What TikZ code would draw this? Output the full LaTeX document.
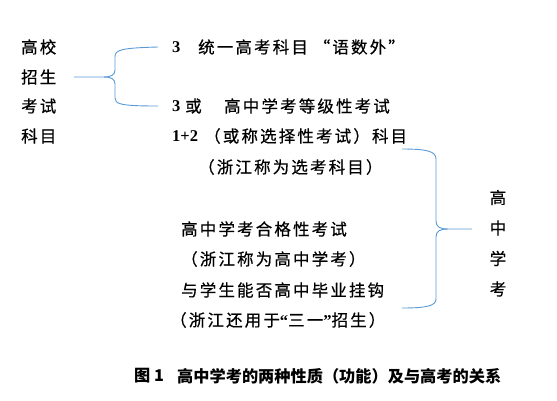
\documentclass[tikz,border=0pt]{standalone}
\usepackage{fontspec}
\setmainfont{Liberation Serif}
\newfontfamily\cjk[LetterSpace=13,FakeBold=0.5]{Noto Sans CJK SC}
\newfontfamily\cjkcap{Noto Sans CJK SC}
\definecolor{braceblue}{RGB}{91,155,213}

\begin{document}
\begin{tikzpicture}[
    x=1pt, y=-1pt,
    txt/.style={anchor=west, inner sep=0pt, font=\cjk\fontsize{16.5}{18}\selectfont},
    num/.style={anchor=west, inner sep=0pt, font=\fontsize{16.5}{18}\selectfont\bfseries},
    captxt/.style={anchor=west, inner sep=0pt, font=\cjkcap\bfseries\fontsize{16.2}{17}\selectfont},
    brace/.style={draw=braceblue, line width=0.9pt}
]
    \useasboundingbox (0,0) rectangle (557,400);

    % Left column
    \node[txt] (gx) at (21,47) {高校};
    \node[txt] (zs) at (21,77) {招生};
    \node[txt] (ks) at (21,106) {考试};
    \node[txt] (km) at (21,136) {科目};

    % Upper rows (gaokao subjects)
    \node[num] (n1) at (172,47) {3};
    \node[txt] (t1) at (198,47) {统一高考科目 “语数外”};
    \node[num] (n2) at (172,106) {3};
    \node[txt] (h2) at (185,106) {或};
    \node[txt] (t2) at (224,106) {高中学考等级性考试};
    \node[num] (n3) at (172,136) {1+2};
    \node[txt] (t3) at (204,136) {（或称选择性考试）科目};
    \node[txt] (t4) at (198,167) {（浙江称为选考科目）};

    % Lower rows (xuekao)
    \node[txt] (t5) at (181,229) {高中学考合格性考试};
    \node[txt] (t6) at (181,259) {（浙江称为高中学考）};
    \node[txt] (t7) at (181,290) {与学生能否高中毕业挂钩};
    \node[txt] (t8) at (170,320) {（浙江还用于{\rmfamily\bfseries “}三一{\rmfamily\bfseries ”}招生）};

    % Vertical label
    \foreach \ch [count=\i] in {高,中,学,考}
        \node[txt, anchor=center] (v\i) at (498,167+30.5*\i) {\ch};

    % Left brace
    \coordinate (lbtip) at (74,77);
    \coordinate (lbtop) at (158,47);
    \coordinate (lbbot) at (158,106);
    \draw[brace] (lbtip) -- (104,77) .. controls (111,77) and (115,75) .. (115,70)
        -- (115,57) .. controls (115,50) and (120,48) .. (lbtop);
    \draw[brace] (104,77) .. controls (111,77) and (115,79) .. (115,84)
        -- (115,98) .. controls (115,104) and (120,106) .. (lbbot);

    % Right brace
    \coordinate (rbtop) at (402,149);
    \coordinate (rbtip) at (472,229);
    \coordinate (rbbot) at (402,308);
    \draw[brace] (rbtop) .. controls (426,149) and (436,151) .. (436,159)
        -- (436,221) .. controls (436,227) and (440,229) .. (448,229) -- (rbtip);
    \draw[brace] (448,229) .. controls (440,229) and (436,231) .. (436,237)
        -- (436,299) .. controls (436,306) and (426,308) .. (rbbot);

    % Caption
    \node[captxt] (fig) at (134,376) {图 1};
    \node[captxt] (cap) at (177,376) {高中学考的两种性质（功能）及与高考的关系};
\end{tikzpicture}
\end{document}
